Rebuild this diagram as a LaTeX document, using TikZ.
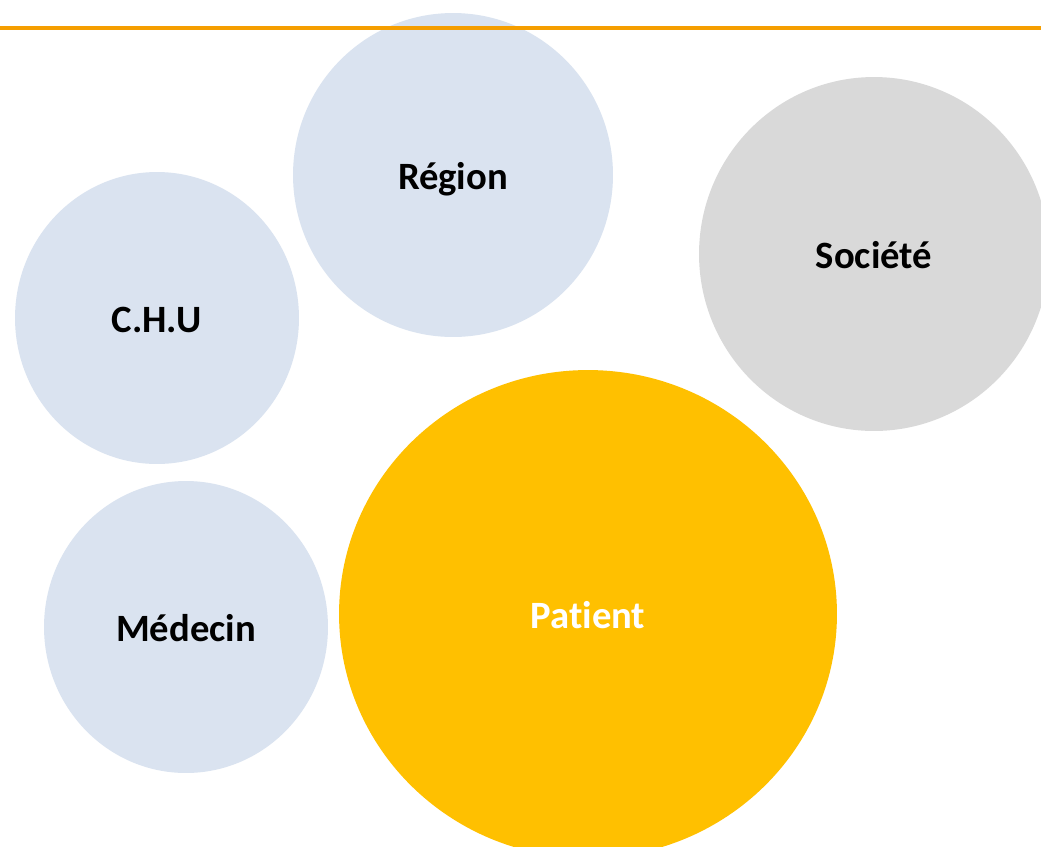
\documentclass[tikz,border=0pt]{standalone}
\usepackage{fontspec}
\setmainfont[Ligatures=NoCommon]{Carlito}
\usepackage{xcolor}
\usetikzlibrary{shapes.geometric}

\definecolor{bluebub}{HTML}{DAE3F0}
\definecolor{greybub}{HTML}{D9D9D9}
\definecolor{yellowbub}{HTML}{FFC000}
\definecolor{rule}{HTML}{F59E00}

\begin{document}
\begin{tikzpicture}[x=0.02cm, y=-0.02cm,
  bubble/.style={ellipse, inner sep=0pt, outer sep=0pt, text height=0.56cm, text depth=0cm,
    font=\fontsize{22}{26}\selectfont\bfseries}]
% page frame
\useasboundingbox (0,0) rectangle (1041,846);
\clip (0,0) rectangle (1041,846);
\fill[white] (0,0) rectangle (1041,846);

% draw some bubbles
\node[bubble, fill=bluebub, minimum width=6.40cm, minimum height=6.48cm] (region) at (453,175) {Région};
\node[bubble, fill=bluebub, minimum width=5.68cm, minimum height=5.84cm] (chu) at (157,318) {C.H.U};
\node[bubble, fill=bluebub, minimum width=5.68cm, minimum height=5.84cm] (medecin) at (186,627) {Médecin};
\node[bubble, fill=greybub, minimum width=7.00cm, minimum height=7.08cm] (societe) at (874,254) {Société};
\node[bubble, fill=yellowbub, text=white, minimum width=9.96cm, minimum height=9.76cm] (patient) at (588,614) {Patient};

% top rule
\coordinate (l) at (0,28);
\coordinate (r) at (1041,28);
\draw[rule, line width=0.07cm] (l)--(r);

\end{tikzpicture}
\end{document}
